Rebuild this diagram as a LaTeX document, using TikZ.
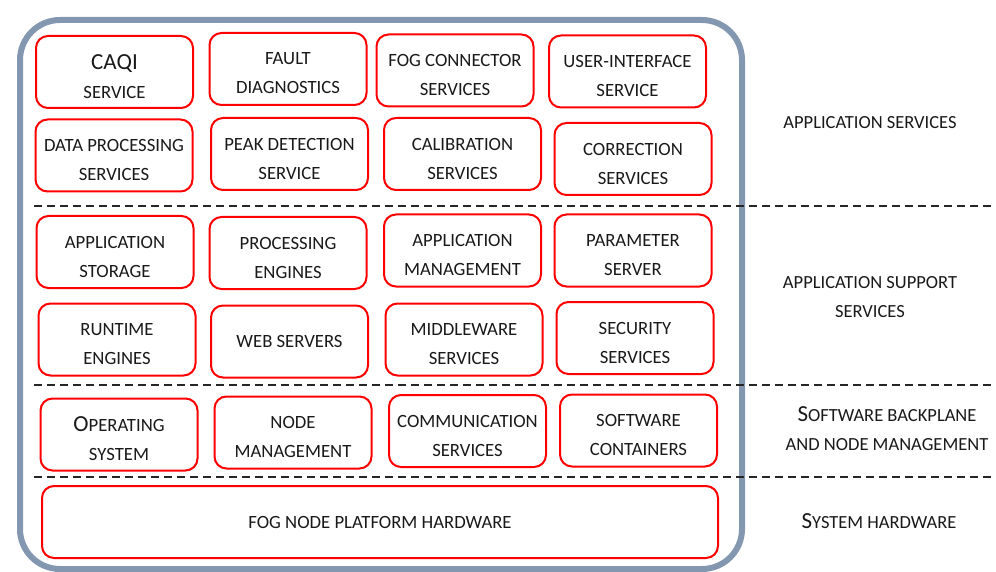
\documentclass[tikz,border=0pt]{standalone}
\usepackage{fontspec}
\setmainfont{Carlito}
\newcommand\capL[1]{{\fontsize{23}{29}\selectfont #1}}
\definecolor{framegray}{HTML}{8497B0}
\begin{document}
\begin{tikzpicture}[x=1pt,y=-1pt,
  box/.style={draw=red, line width=2pt, rounded corners=12pt, minimum width=157pt, minimum height=72pt,
    inner sep=0pt},
  tone/.style={align=center, inner sep=0pt, font=\fontsize{18.7}{29}\selectfont, text=black!90},
  ttwo/.style={tone, yshift=-4.5pt},
  lbl/.style={align=center, font=\fontsize{18.5}{29}\selectfont, text=black!90},
  sep/.style={line width=2pt, dash pattern=on 8pt off 5pt, black!85},
  frame/.style={draw=framegray, line width=6pt, rounded corners=40pt}]
\useasboundingbox (0,0) rectangle (996,572);
\draw[frame] (20,20) rectangle (742,569);
% separators
\coordinate (s1a) at (34,206); \coordinate (s1b) at (996,206);
\coordinate (s2a) at (34,385); \coordinate (s2b) at (996,385);
\coordinate (s3a) at (34,477); \coordinate (s3b) at (996,477);
\draw[sep] (s1a) -- (s1b);
\draw[sep] (s2a) -- (s2b);
\draw[sep] (s3a) -- (s3b);
% row 1
\node[box, label={[ttwo]center:\capL{CAQI}\\SERVICE}] (caqi) at (114.5,72) {};
\node[box, label={[ttwo]center:FAULT\\DIAGNOSTICS}] (fault) at (288,69) {};
\node[box, label={[ttwo]center:FOG CONNECTOR\\SERVICES}] (fogconn) at (455,70.5) {};
\node[box, label={[ttwo]center:USER-INTERFACE\\SERVICE}] (ui) at (627.5,71.5) {};
% row 2
\node[box, label={[ttwo]center:DATA PROCESSING\\SERVICES}] (dataproc) at (114,155.5) {};
\node[box, label={[ttwo]center:PEAK DETECTION\\SERVICE}] (peak) at (289.5,154) {};
\node[box, label={[ttwo]center:CALIBRATION\\SERVICES}] (calib) at (462.5,154) {};
\node[box, label={[ttwo]center:CORRECTION\\SERVICES}] (corr) at (633,159) {};
% row 3
\node[box, label={[ttwo]center:APPLICATION\\STORAGE}] (appstor) at (115,252) {};
\node[box, label={[ttwo]center:PROCESSING\\ENGINES}] (proceng) at (288,253) {};
\node[box, label={[ttwo]center:APPLICATION\\MANAGEMENT}] (appmgmt) at (462.5,250.5) {};
\node[box, label={[ttwo]center:PARAMETER\\SERVER}] (param) at (633,250.5) {};
% row 4
\node[box, label={[ttwo]center:RUNTIME\\ENGINES}] (runtime) at (117,339.5) {};
\node[box, label={[tone]center:WEB SERVERS}] (web) at (289.5,341.5) {};
\node[box, label={[ttwo]center:MIDDLEWARE\\SERVICES}] (middle) at (464,339.5) {};
\node[box, label={[ttwo]center:SECURITY\\SERVICES}] (security) at (635,338) {};
% row 5
\node[box, label={[ttwo]center:\capL{O}PERATING\\SYSTEM}] (os) at (119,434.5) {};
\node[box, label={[ttwo]center:NODE\\MANAGEMENT}] (nodemgmt) at (293,432.5) {};
\node[box, label={[ttwo]center:COMMUNICATION\\SERVICES}] (comm) at (467.5,431) {};
\node[box, label={[ttwo]center:SOFTWARE\\CONTAINERS}] (containers) at (638.5,430.5) {};
% row 6
\node[box, minimum width=676pt, label={[tone]center:FOG NODE PLATFORM HARDWARE}] (hw) at (380,522) {};
% right labels
\node[lbl] (l1) at (870,123) {APPLICATION SERVICES};
\node[lbl] (l2) at (870,297) {APPLICATION SUPPORT\\SERVICES};
\node[lbl] (l3) at (887,429) {\capL{S}OFTWARE BACKPLANE\\AND NODE MANAGEMENT};
\node[lbl] (l4) at (879,521) {\capL{S}YSTEM HARDWARE};
\end{tikzpicture}
\end{document}
